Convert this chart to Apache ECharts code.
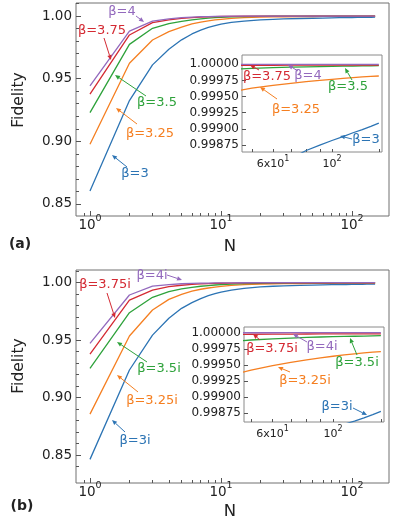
<!DOCTYPE html>
<html>
<head>
<meta charset="utf-8">
<script src="https://cdn.jsdelivr.net/npm/echarts@6/dist/echarts.min.js"></script>
<style>
html, body { margin: 0; padding: 0; background: #fff; }
#chart { width: 399px; height: 528px; }
</style>
</head>
<body>
<div id="chart"></div>
<script>
// photon number N
var nValues = [1, 2, 3, 4, 5, 6, 7, 8, 9, 10, 12, 15, 20, 25, 30, 40, 50, 60, 70, 80, 90, 100, 110, 120, 130, 140, 150];

// (a) real beta
var fidA_3    = [0.8603, 0.9325, 0.9610, 0.9735, 0.9810, 0.9857, 0.9888, 0.9909, 0.9924, 0.9935, 0.9949, 0.9960, 0.9969, 0.99738, 0.99768, 0.99804, 0.99824, 0.99840, 0.99854, 0.998665, 0.99875, 0.99882, 0.99888, 0.99894, 0.99899, 0.99904, 0.99909];
var fidA_325  = [0.8977, 0.9623, 0.9809, 0.9875, 0.9912, 0.9937, 0.9952, 0.9962, 0.9969, 0.9974, 0.9981, 0.9987, 0.99912, 0.99932, 0.99943, 0.99956, 0.99963, 0.999674, 0.999705, 0.999732, 0.999752, 0.999768, 0.999782, 0.999794, 0.999804, 0.999812, 0.999819];
var fidA_35   = [0.9229, 0.9774, 0.9902, 0.9940, 0.9958, 0.9970, 0.9978, 0.9983, 0.99865, 0.9989, 0.99925, 0.99952, 0.99973, 0.99982, 0.999865, 0.99992, 0.999938, 0.999948, 0.999955, 0.999961, 0.999965, 0.999968, 0.999971, 0.999973, 0.999975, 0.999977, 0.999978];
var fidA_375  = [0.9376, 0.9849, 0.9947, 0.9970, 0.9981, 0.9987, 0.9991, 0.99934, 0.9995, 0.99961, 0.99976, 0.99987, 0.99994, 0.999965, 0.999974, 0.999981, 0.999984, 0.999985, 0.999986, 0.9999865, 0.999987, 0.9999873, 0.9999875, 0.9999877, 0.9999879, 0.999988, 0.9999882];
var fidA_4    = [0.9442, 0.9880, 0.9960, 0.9978, 0.9987, 0.9992, 0.99945, 0.9996, 0.9997, 0.99978, 0.99988, 0.99994, 0.999975, 0.999988, 0.999994, 0.999998, 0.999999, 0.9999995, 0.9999997, 0.9999998, 0.9999998, 0.9999999, 0.9999999, 0.9999999, 0.9999999, 0.9999999, 0.9999999];

// (b) imaginary beta
var fidB_3i   = [0.8462, 0.9240, 0.9544, 0.9690, 0.9777, 0.9826, 0.9862, 0.9887, 0.9905, 0.9918, 0.9936, 0.9951, 0.9963, 0.9969, 0.9973, 0.99772, 0.99796, 0.99813, 0.99827, 0.99837, 0.99845, 0.99852, 0.99858, 0.99863, 0.99868, 0.99873, 0.99878];
var fidB_325i = [0.8856, 0.9536, 0.9762, 0.9855, 0.9899, 0.9926, 0.9943, 0.9954, 0.9962, 0.9968, 0.9976, 0.9983, 0.99885, 0.99905, 0.99918, 0.99932, 0.99942, 0.99949, 0.99954, 0.99958, 0.99961, 0.999635, 0.999655, 0.999672, 0.999686, 0.999698, 0.999708];
var fidB_35i  = [0.9254, 0.9739, 0.9873, 0.9922, 0.9946, 0.9960, 0.9969, 0.9975, 0.9980, 0.9983, 0.9988, 0.9992, 0.99952, 0.99967, 0.99975, 0.99985, 0.999887, 0.999905, 0.999917, 0.999926, 0.999933, 0.999938, 0.999942, 0.999945, 0.999948, 0.999951, 0.9999535];
var fidB_375i = [0.9379, 0.9849, 0.9936, 0.9965, 0.9978, 0.9985, 0.9989, 0.9992, 0.9994, 0.99952, 0.9997, 0.99983, 0.99992, 0.99995, 0.999963, 0.999972, 0.999976, 0.999978, 0.999979, 0.99998, 0.9999805, 0.999981, 0.9999814, 0.9999817, 0.999982, 0.9999822, 0.9999824];
var fidB_4i   = [0.9472, 0.9893, 0.9971, 0.9984, 0.9991, 0.9994, 0.9996, 0.99972, 0.9998, 0.99985, 0.99992, 0.99996, 0.999985, 0.999993, 0.999996, 0.9999985, 0.9999992, 0.9999995, 0.9999997, 0.9999997, 0.9999998, 0.9999998, 0.9999998, 0.9999999, 0.9999999, 0.9999999, 0.9999999];

// tick values
var mainYTicks  = [0.85, 0.90, 0.95, 1.00];
var mainYMinor  = [0.84, 0.86, 0.87, 0.88, 0.89, 0.91, 0.92, 0.93, 0.94, 0.96, 0.97, 0.98, 0.99, 1.01];
var mainXTicks  = [1, 10, 100];
var mainXMinor  = [0.9, 2, 3, 4, 5, 6, 7, 8, 9, 20, 30, 40, 50, 60, 70, 80, 90];
var insetYTicks = [0.99875, 0.99900, 0.99925, 0.99950, 0.99975, 1.00000];
var insetXTicks = [50, 60, 70, 80, 90, 100, 150];
var insetXLabels = [60, 100];

var labelsA = ['β=3', 'β=3.25', 'β=3.5', 'β=3.75', 'β=4'];
var labelsB = ['β=3i', 'β=3.25i', 'β=3.5i', 'β=3.75i', 'β=4i'];

var colors = ['#2c74b4', '#f57f21', '#2ea23b', '#d42a33', '#9369bd'];
var FONT = 'DejaVu Sans';

function pairs(ys) {
  return nValues.map(function (n, i) { return [n, ys[i]]; });
}

var seriesA = [fidA_3, fidA_325, fidA_35, fidA_375, fidA_4];
var seriesB = [fidB_3i, fidB_325i, fidB_35i, fidB_375i, fidB_4i];

// grid layout: main, ghost (minor ticks), inset for each panel
var grids = [
  { left: 76, top: 3, width: 313, height: 213, show: true, borderColor: '#707070', borderWidth: 1 },
  { left: 76, top: 3, width: 313, height: 213, show: false },
  { left: 242, top: 55, width: 140, height: 97, show: true, backgroundColor: '#fff', borderColor: '#8a8a8a', borderWidth: 1 },
  { left: 76, top: 270, width: 313, height: 213, show: true, borderColor: '#707070', borderWidth: 1 },
  { left: 76, top: 270, width: 313, height: 213, show: false },
  { left: 244, top: 327, width: 140, height: 95, show: true, backgroundColor: '#fff', borderColor: '#8a8a8a', borderWidth: 1 }
];

var xRange = [[0.782, 191.5], [0.782, 191.5], [45.9, 154.2], [0.782, 191.5], [0.782, 191.5], [47.1, 154]];
var yRange = [[0.8404, 1.0104], [0.8404, 1.0104], [0.998642, 1.000144], [0.82564, 1.01106], [0.82564, 1.01106], [0.998615, 1.0000884]];

var supRich = {
  b: { fontFamily: FONT, fontSize: 13.5, color: '#222', lineHeight: 18, verticalAlign: 'bottom' },
  s: { fontFamily: FONT, fontSize: 9.5, color: '#222', lineHeight: 11, verticalAlign: 'top' }
};
var supRichSmall = {
  b: { fontFamily: FONT, fontSize: 11, color: '#222', lineHeight: 15, verticalAlign: 'bottom' },
  s: { fontFamily: FONT, fontSize: 8, color: '#222', lineHeight: 9, verticalAlign: 'top' }
};

var xAxes = [], yAxes = [];
for (var g = 0; g < 6; g++) {
  var kind = (g === 2 || g === 5) ? 'inset' : (g === 1 || g === 4) ? 'ghost' : 'main';
  var xa = {
    type: 'log', logBase: 10, gridIndex: g, min: xRange[g][0], max: xRange[g][1],
    axisLine: { show: false }, splitLine: { show: false },
    axisTick: { show: true, inside: true, length: 5, lineStyle: { color: '#555' } },
    axisLabel: { show: false }
  };
  var ya = {
    type: 'value', gridIndex: g, min: yRange[g][0], max: yRange[g][1], scale: true,
    axisLine: { show: false }, splitLine: { show: false },
    axisTick: { show: true, inside: true, length: 5, lineStyle: { color: '#555' } },
    axisLabel: { show: false }
  };
  if (kind === 'main') {
    xa.axisTick.customValues = mainXTicks;
    xa.axisLabel = {
      show: true, customValues: mainXTicks, margin: -2, rich: supRich,
      formatter: function (v) { return '{b|10}{s|' + Math.round(Math.log(v) / Math.LN10) + '}'; }
    };
    ya.axisTick.customValues = mainYTicks;
    ya.axisLabel = {
      show: true, customValues: mainYTicks, margin: 4, fontFamily: FONT, fontSize: 13.5, color: '#222',
      formatter: function (v) { return v.toFixed(2); }
    };
  } else if (kind === 'ghost') {
    xa.axisTick.customValues = mainXMinor;
    xa.axisTick.length = 3;
    ya.axisTick.customValues = mainYMinor;
    ya.axisTick.length = 3;
  } else {
    xa.axisTick.customValues = insetXTicks;
    xa.axisTick.length = 3;
    xa.axisLabel = {
      show: true, customValues: insetXLabels, margin: 3, rich: supRichSmall,
      formatter: function (v) { return v < 80 ? '{b|6x10}{s|1}' : '{b|10}{s|2}'; }
    };
    ya.axisTick.customValues = insetYTicks;
    ya.axisTick.length = 4;
    ya.axisLabel = {
      show: true, customValues: insetYTicks, margin: 3, fontFamily: FONT, fontSize: 12, color: '#222',
      formatter: function (v) { return v.toFixed(5); }
    };
  }
  xAxes.push(xa);
  yAxes.push(ya);
}

var series = [];
function addLines(gridIdx, sets) {
  sets.forEach(function (ys, i) {
    series.push({
      type: 'line', xAxisIndex: gridIdx, yAxisIndex: gridIdx, data: pairs(ys),
      symbol: 'none', showSymbol: false, clip: true, silent: true, z: 3,
      lineStyle: { color: colors[i], width: 1.3 }, itemStyle: { color: colors[i] }
    });
  });
}
addLines(0, seriesA);
addLines(2, seriesA);
addLines(3, seriesB);
addLines(5, seriesB);

// annotation layout (pixels): text centre, arrow start, arrow tip
var notes = [
  // panel (a) main
  { s: 0, k: 4, tx: 122, ty: 12, x1: 136, y1: 16, x2: 144, y2: 22 },
  { s: 0, k: 3, tx: 102, ty: 31, x1: 104, y1: 38, x2: 111, y2: 60 },
  { s: 0, k: 2, tx: 157, ty: 103, x1: 146, y1: 96, x2: 115, y2: 75 },
  { s: 0, k: 1, tx: 150, ty: 134, x1: 137, y1: 124, x2: 116, y2: 108 },
  { s: 0, k: 0, tx: 135, ty: 174, x1: 127, y1: 167, x2: 112, y2: 155 },
  // panel (a) inset
  { s: 0, k: 3, tx: 267, ty: 77, x1: 259, y1: 70, x2: 250, y2: 65 },
  { s: 0, k: 4, tx: 308, ty: 76, x1: 298, y1: 71, x2: 288, y2: 65 },
  { s: 0, k: 2, tx: 348, ty: 87, x1: 352, y1: 80, x2: 345, y2: 68 },
  { s: 0, k: 1, tx: 296, ty: 110, x1: 277, y1: 99, x2: 260, y2: 87 },
  { s: 0, k: 0, tx: 366, ty: 140, x1: 352, y1: 139, x2: 340, y2: 136 },
  // panel (b) main
  { s: 1, k: 4, tx: 152, ty: 276, x1: 167, y1: 275, x2: 182, y2: 280 },
  { s: 1, k: 3, tx: 105, ty: 285, x1: 107, y1: 293, x2: 115, y2: 318 },
  { s: 1, k: 2, tx: 159, ty: 369, x1: 147, y1: 362, x2: 117, y2: 342 },
  { s: 1, k: 1, tx: 152, ty: 401, x1: 138, y1: 392, x2: 117, y2: 375 },
  { s: 1, k: 0, tx: 135, ty: 441, x1: 125, y1: 432, x2: 112, y2: 420 },
  // panel (b) inset
  { s: 1, k: 3, tx: 272, ty: 349, x1: 260, y1: 340, x2: 253, y2: 334 },
  { s: 1, k: 4, tx: 322, ty: 347, x1: 307, y1: 342, x2: 293, y2: 334 },
  { s: 1, k: 2, tx: 357, ty: 363, x1: 357, y1: 355, x2: 350, y2: 338 },
  { s: 1, k: 1, tx: 305, ty: 381, x1: 290, y1: 372, x2: 278, y2: 367 },
  { s: 1, k: 0, tx: 337, ty: 407, x1: 353, y1: 408, x2: 367, y2: 415 }
];

var graphics = [];
notes.forEach(function (a) {
  var col = colors[a.k];
  var txt = (a.s === 0 ? labelsA : labelsB)[a.k];
  graphics.push({
    type: 'text', x: a.tx, y: a.ty, z: 20,
    style: { text: txt, fill: col, fontFamily: FONT, fontSize: 13, align: 'center', verticalAlign: 'middle', textAlign: 'center', textVerticalAlign: 'middle' }
  });
  var dx = a.x2 - a.x1, dy = a.y2 - a.y1, len = Math.sqrt(dx * dx + dy * dy);
  var ux = dx / len, uy = dy / len, hl = 5, hw = 2.2;
  var bx = a.x2 - ux * hl, by = a.y2 - uy * hl;
  graphics.push({ type: 'line', z: 20, shape: { x1: a.x1, y1: a.y1, x2: bx, y2: by }, style: { stroke: col, lineWidth: 1 } });
  graphics.push({
    type: 'polygon', z: 20,
    shape: { points: [[a.x2, a.y2], [bx - uy * hw, by + ux * hw], [bx + uy * hw, by - ux * hw]] },
    style: { fill: col }
  });
});

// panel letters and axis names
[
  { t: '(a)', x: 20, y: 244, bold: true, size: 14 },
  { t: '(b)', x: 22, y: 506, bold: true, size: 14 },
  { t: 'N', x: 230, y: 247, size: 16.5 },
  { t: 'N', x: 230, y: 512, size: 16.5 }
].forEach(function (o) {
  graphics.push({
    type: 'text', x: o.x, y: o.y, z: 20,
    style: { text: o.t, fill: '#222', fontFamily: FONT, fontSize: o.size, fontWeight: o.bold ? 'bold' : 'normal', align: 'center', verticalAlign: 'middle', textAlign: 'center', textVerticalAlign: 'middle' }
  });
});
[100, 366].forEach(function (cy) {
  graphics.push({
    type: 'text', x: 19, y: cy, rotation: Math.PI / 2, z: 20,
    style: { text: 'Fidelity', fill: '#222', fontFamily: FONT, fontSize: 15.5, align: 'center', verticalAlign: 'middle', textAlign: 'center', textVerticalAlign: 'middle' }
  });
});

var chart = echarts.init(document.getElementById('chart'));
chart.setOption({
  animation: false,
  backgroundColor: '#fff',
  grid: grids,
  xAxis: xAxes,
  yAxis: yAxes,
  series: series,
  graphic: { elements: graphics }
});
</script>
</body>
</html>
